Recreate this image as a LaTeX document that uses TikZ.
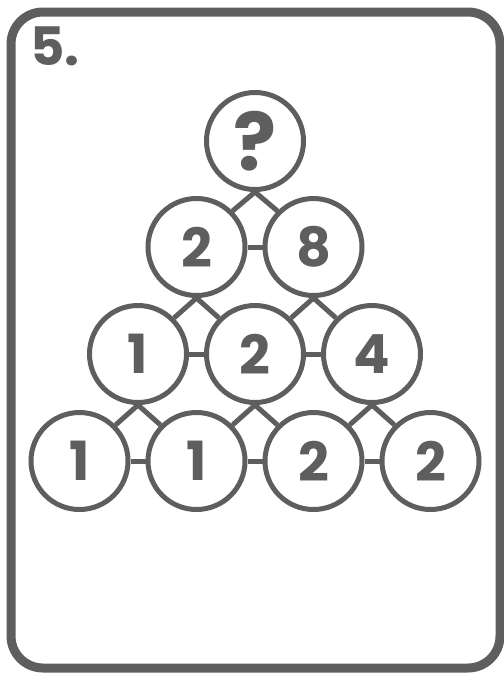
\documentclass[tikz,border=0pt]{standalone}
\usepackage{fontspec}
\setmainfont{Poppins}
\usepackage{tikz}
\definecolor{ink}{HTML}{5E5E5E}
\tikzset{ball/.style={circle,draw=ink,line width=5pt,fill=white,minimum size=97pt,inner sep=0pt,text=ink,font=\fontsize{54}{54}\selectfont\bfseries},link/.style={draw=ink,line width=5pt}}

\begin{document}
\begin{tikzpicture}[x=1pt,y=-1pt]
\useasboundingbox (0,0) rectangle (504,673);
\draw[ink,line width=9pt,rounded corners=32pt] (11,12) rectangle (500,668);
\node[anchor=base west,inner sep=0pt,text=ink,font=\fontsize{53}{53}\selectfont\bfseries] (num) at (30,65) {5.};
\node[ball,font=\fontsize{80}{80}\selectfont\bfseries] (top) at (255,141) {?};
\node[ball] (b1) at (196.5,247) {2};
\node[ball] (b2) at (313.5,247) {8};
\node[ball] (c1) at (138,354) {1};
\node[ball] (c2) at (255,354) {2};
\node[ball] (c3) at (372,354) {4};
\node[ball] (d1) at (79.5,461) {1};
\node[ball] (d2) at (196.5,461) {1};
\node[ball] (d3) at (313.5,461) {2};
\node[ball] (d4) at (430.5,461) {2};
\draw[link] (b1)--(b2);\draw[link] (c1)--(c2);\draw[link] (c2)--(c3);
\draw[link] (d1)--(d2);\draw[link] (d2)--(d3);\draw[link] (d3)--(d4);
\draw[link] (top.south)--(b1.north east);\draw[link] (top.south)--(b2.north west);
\draw[link] (b1.south)--(c1.north east);\draw[link] (b1.south)--(c2.north west);
\draw[link] (b2.south)--(c2.north east);\draw[link] (b2.south)--(c3.north west);
\draw[link] (c1.south)--(d1.north east);\draw[link] (c1.south)--(d2.north west);
\draw[link] (c2.south)--(d2.north east);\draw[link] (c2.south)--(d3.north west);
\draw[link] (c3.south)--(d3.north east);\draw[link] (c3.south)--(d4.north west);
\end{tikzpicture}
\end{document}
